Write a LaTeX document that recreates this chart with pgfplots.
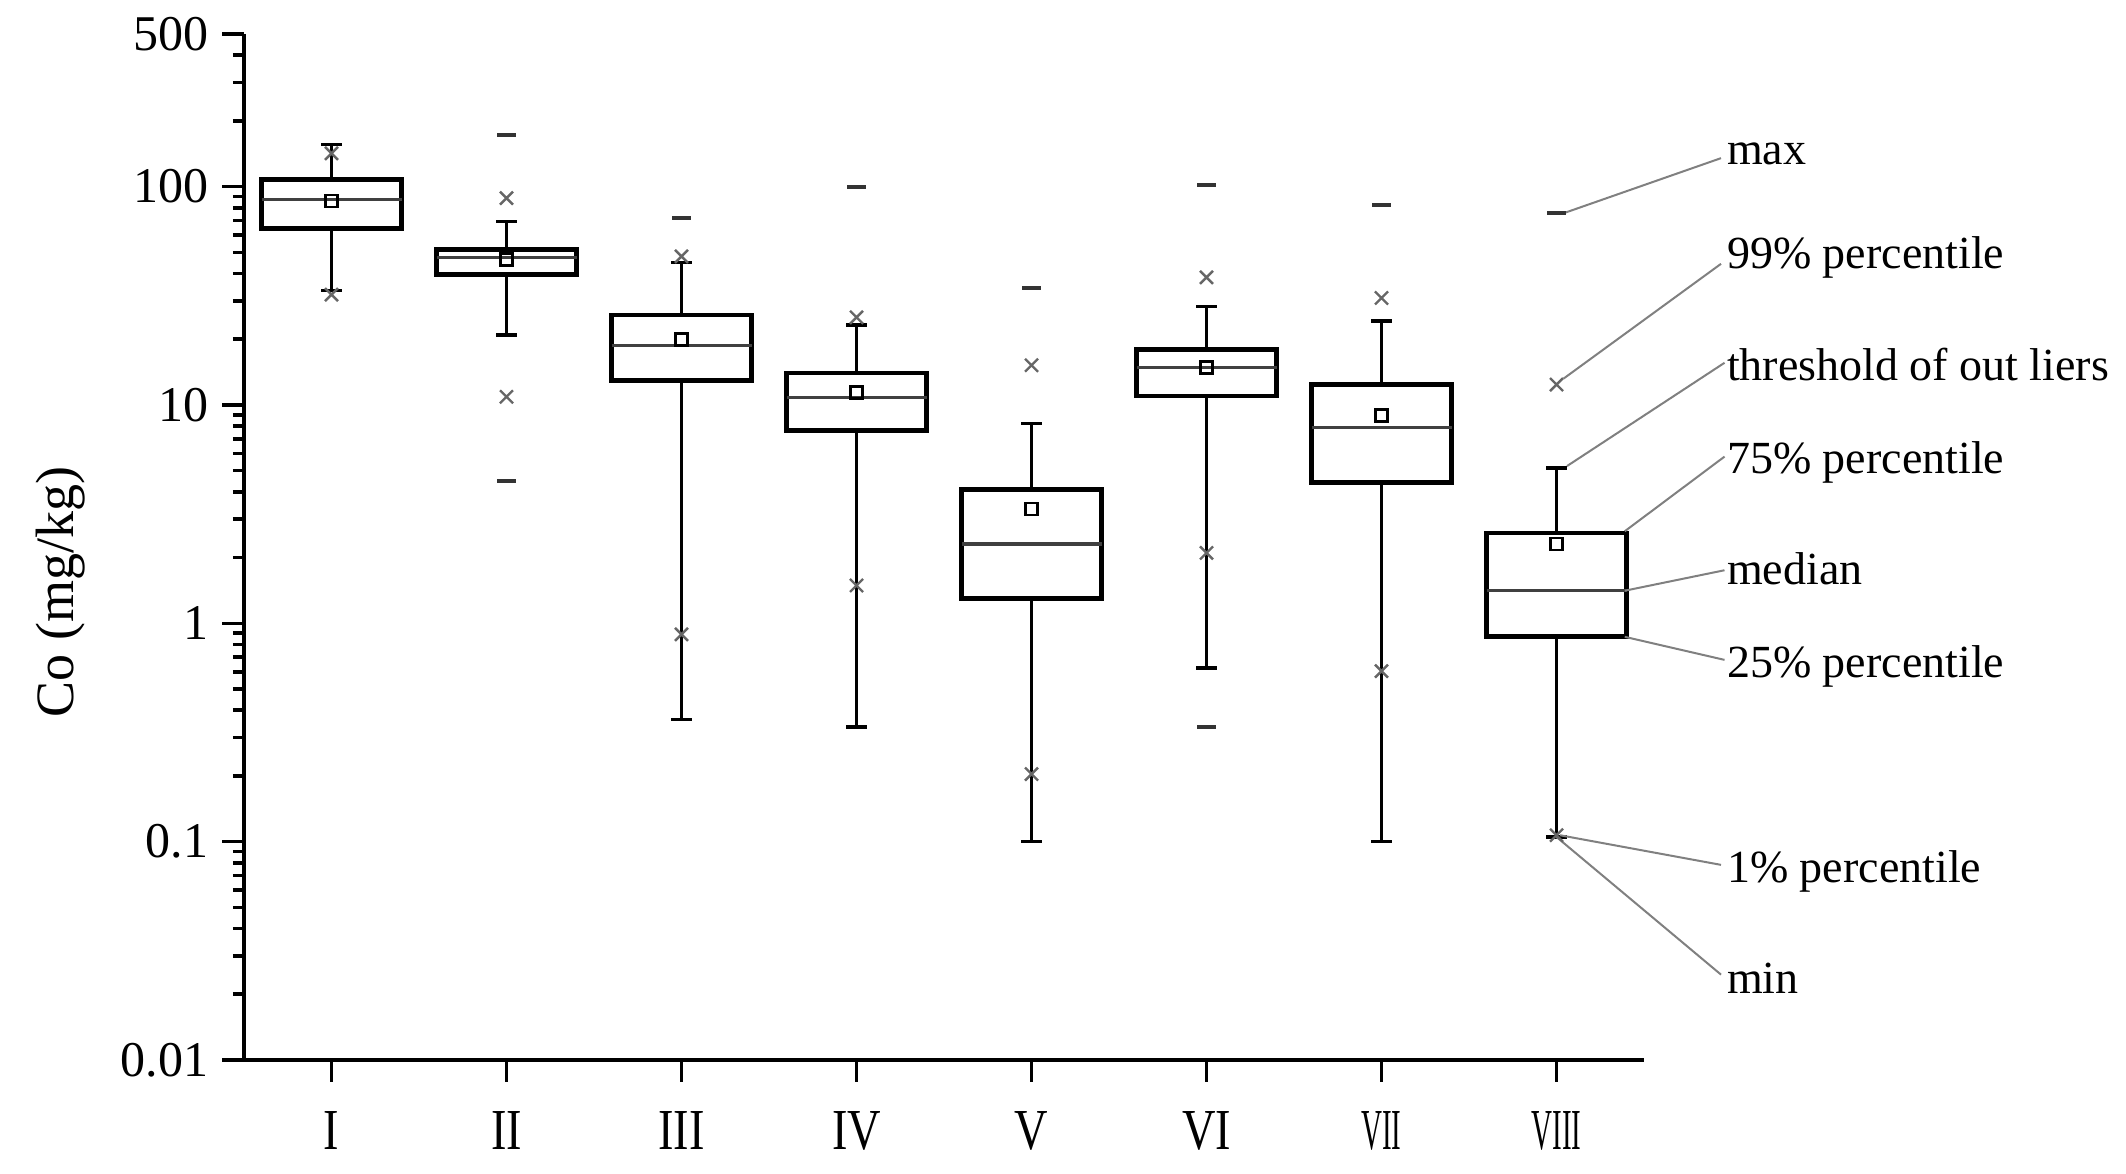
\documentclass[border=0pt]{standalone}
\usepackage{fontspec}
\setmainfont{Liberation Serif}
\newfontfamily\condfont[FakeStretch=0.8]{Liberation Serif}
\newfontfamily\ccondfont[FakeStretch=0.5]{Liberation Serif}
\usepackage{pgfplots}
\pgfplotsset{compat=1.18}
\begin{document}
\begin{tikzpicture}
\begin{axis}[
  scale only axis, width=350pt, height=256.5pt,
  ymode=log, ymin=0.01, ymax=500, xmin=0.5, xmax=8.5,
  axis x line*=bottom, axis y line*=left,
  axis line style={line width=1.1pt},
  tick align=outside, tick style={line width=0.9pt, black},
  major tick length=5.4pt, minor tick length=2.8pt,
  xtick={1,2,3,4,5,6,7,8}, xticklabels={I,II,III,IV,V,VI,{\ccondfont VII},{\ccondfont VIII}},
  ytick={0.01,0.1,1,10,100,500}, yticklabels={0.01,0.1,1,10,100,500},
  minor ytick={0.02,0.03,0.04,0.05,0.06,0.07,0.08,0.09,0.2,0.3,0.4,0.5,0.6,0.7,0.8,0.9,2,3,4,5,6,7,8,9,20,30,40,50,60,70,80,90,200,300,400},
  xticklabel style={font=\condfont\fontsize{14.5}{14.5}\selectfont, yshift=-4pt},
  yticklabel style={font=\fontsize{12.5}{12.5}\selectfont},
  clip=false,
  unbounded coords=jump,
]
% boxes (25% to 75% percentile)
\addplot[black, line width=1.2pt, line cap=rect, mark=none] coordinates {
 (0.6,64.5)(1.4,64.5)(1.4,108)(0.6,108)(0.6,64.5) (1,nan)
 (1.6,39.5)(2.4,39.5)(2.4,51.4)(1.6,51.4)(1.6,39.5) (2,nan)
 (2.6,12.9)(3.4,12.9)(3.4,25.8)(2.6,25.8)(2.6,12.9) (3,nan)
 (3.6,7.62)(4.4,7.62)(4.4,14.0)(3.6,14.0)(3.6,7.62) (4,nan)
 (4.6,1.30)(5.4,1.30)(5.4,4.09)(4.6,4.09)(4.6,1.30) (5,nan)
 (5.6,11.0)(6.4,11.0)(6.4,18.0)(5.6,18.0)(5.6,11.0) (6,nan)
 (6.6,4.41)(7.4,4.41)(7.4,12.4)(6.6,12.4)(6.6,4.41) (7,nan)
 (7.6,0.867)(8.4,0.867)(8.4,2.59)(7.6,2.59)(7.6,0.867)};
% medians
\addplot[black!75, line width=0.8pt, mark=none] coordinates {
 (0.6,87.5)(1.4,87.5) (1,nan)
 (1.6,47.4)(2.4,47.4) (2,nan)
 (2.6,18.7)(3.4,18.7) (3,nan)
 (3.6,10.8)(4.4,10.8) (4,nan)
 (4.6,2.31)(5.4,2.31) (5,nan)
 (5.6,14.9)(6.4,14.9) (6,nan)
 (6.6,7.91)(7.4,7.91) (7,nan)
 (7.6,1.41)(8.4,1.41)};
% whiskers (thresholds of outliers) with caps
\addplot[black, line width=0.9pt, mark=none] coordinates {
 (1,108)(1,156) (1,nan) (0.94,156)(1.06,156) (1,nan) (1,64.5)(1,33.5) (1,nan) (0.94,33.5)(1.06,33.5) (1,nan)
 (2,51.4)(2,69.3) (2,nan) (1.94,69.3)(2.06,69.3) (2,nan) (2,39.5)(2,20.9) (2,nan) (1.94,20.9)(2.06,20.9) (2,nan)
 (3,25.8)(3,45) (3,nan) (2.94,45)(3.06,45) (3,nan) (3,12.9)(3,0.362) (3,nan) (2.94,0.362)(3.06,0.362) (3,nan)
 (4,14.0)(4,23.3) (4,nan) (3.94,23.3)(4.06,23.3) (4,nan) (4,7.62)(4,0.335) (4,nan) (3.94,0.335)(4.06,0.335) (4,nan)
 (5,4.09)(5,8.24) (5,nan) (4.94,8.24)(5.06,8.24) (5,nan) (5,1.30)(5,0.1) (5,nan) (4.94,0.1)(5.06,0.1) (5,nan)
 (6,18.0)(6,28.3) (6,nan) (5.94,28.3)(6.06,28.3) (6,nan) (6,11.0)(6,0.624) (6,nan) (5.94,0.624)(6.06,0.624) (6,nan)
 (7,12.4)(7,24.2) (7,nan) (6.94,24.2)(7.06,24.2) (7,nan) (7,4.41)(7,0.1) (7,nan) (6.94,0.1)(7.06,0.1) (7,nan)
 (8,2.59)(8,5.15) (8,nan) (7.94,5.15)(8.06,5.15) (8,nan) (8,0.867)(8,0.105) (8,nan) (7.94,0.105)(8.06,0.105)};
% 99% and 1% percentiles
\addplot[only marks, mark=x, mark size=2.3pt, black!60, line width=0.6pt] coordinates {
 (1,142) (1,32) (2,88.6) (2,10.9) (3,47.9) (3,0.89) (4,25.2) (4,1.49)
 (5,15.2) (5,0.204) (6,38.4) (6,2.10) (7,30.9) (7,0.604) (8,12.4) (8,0.107)};
% max / min
\addplot[only marks, mark=-, mark size=2.3pt, black!80, line width=1pt] coordinates {
 (2,173) (2,4.47) (3,72.1) (4,100) (5,34.3) (6,102) (6,0.335) (7,82.6) (8,76)};
% means
\addplot[only marks, mark=square, mark size=1.5pt, black, line width=0.7pt] coordinates {
 (1,86) (2,46.5) (3,19.9) (4,11.4) (5,3.34) (6,14.9) (7,8.97) (8,2.31)};
% annotations
\begin{scope}[gray, line width=0.5pt]
\draw (axis cs:8.05,76) -- (axis cs:8.94,135);
\draw (axis cs:8.04,13.2) -- (axis cs:8.94,44.3);
\draw (axis cs:8.06,5.25) -- (axis cs:8.96,15.6);
\draw (axis cs:8.39,2.64) -- (axis cs:8.96,5.8);
\draw (axis cs:8.39,1.41) -- (axis cs:8.96,1.75);
\draw (axis cs:8.39,0.867) -- (axis cs:8.96,0.68);
\draw (axis cs:8.02,0.107) -- (axis cs:8.94,0.0783);
\draw (axis cs:8.0,0.105) -- (axis cs:8.94,0.0246);
\end{scope}
\begin{scope}[every node/.style={anchor=west, inner sep=0pt, font=\fontsize{11.5}{11.5}\selectfont}]
\node at (axis cs:8.97,141) {max};
\node at (axis cs:8.97,47.5) {99\% percentile};
\node at (axis cs:8.97,15.3) {threshold of out liers};
\node at (axis cs:8.97,5.48) {75\% percentile};
\node at (axis cs:8.97,1.77) {median};
\node at (axis cs:8.97,0.632) {25\% percentile};
\node at (axis cs:8.97,0.073) {1\% percentile};
\node at (axis cs:8.97,0.0236) {min};
\end{scope}
\end{axis}
\node[rotate=90, font=\fontsize{13.5}{13.5}\selectfont] at (-45.75pt,117pt) {Co (mg/kg)};
\pgfresetboundingbox
\path (-61pt,-28.5pt) rectangle (470.5pt,265pt);
\end{tikzpicture}
\end{document}
